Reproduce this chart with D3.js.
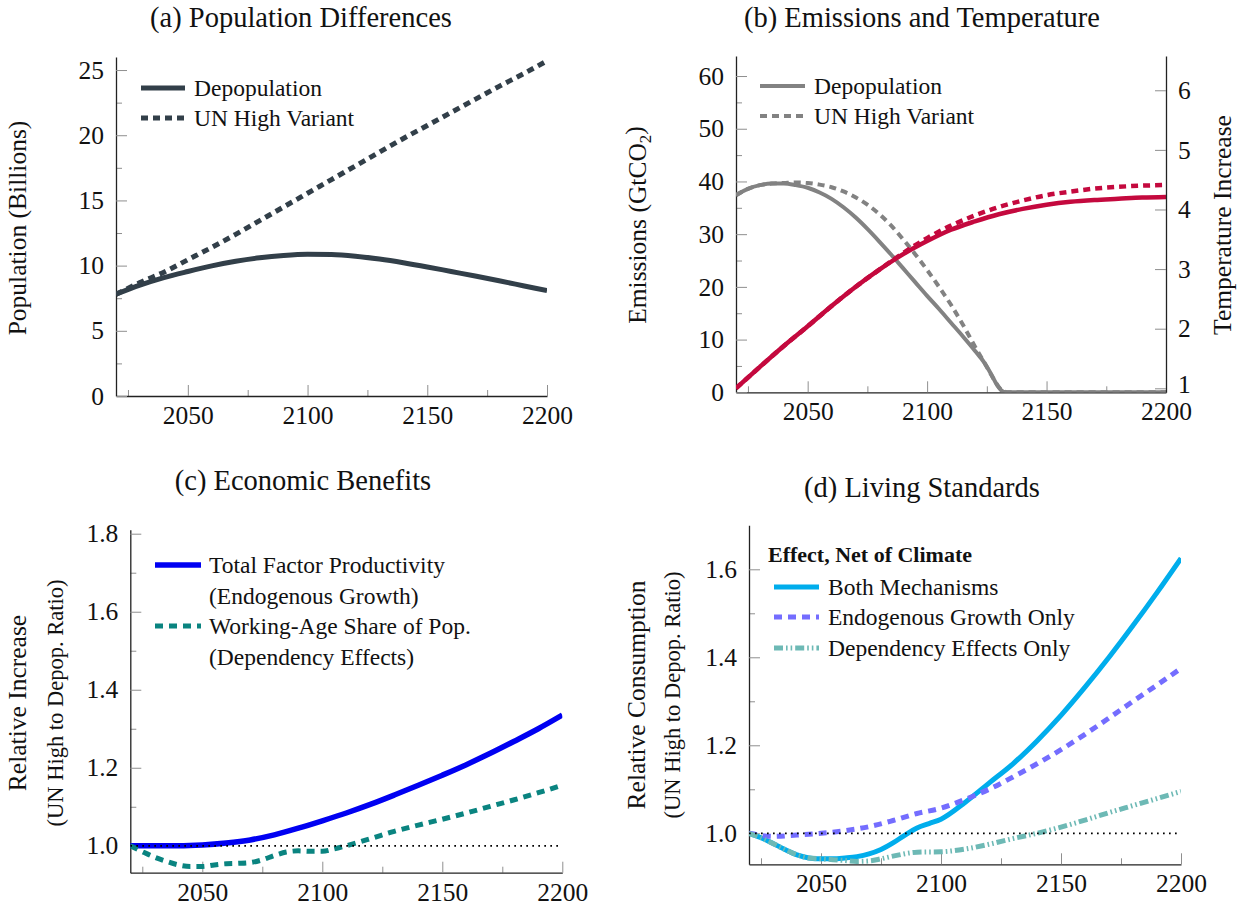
<!DOCTYPE html>
<html>
<head>
<meta charset="utf-8">
<script src="https://cdn.jsdelivr.net/npm/d3@7"></script>
<style>
  body { margin: 0; background: #fff; }
  svg text { font-family: "Liberation Serif", "Times New Roman", serif; fill: #111; }
</style>
</head>
<body>
<svg id="fig" width="1239" height="907"></svg>
<script>
// ---------- shared x axis ----------
const yearDomain = [2020, 2200];
const yearMajor = [2050, 2100, 2150, 2200];
const yearMinor = [2025, 2075, 2125, 2175];

// ---------- (a) Population Differences ----------
const popYears  = [2020,2030,2040,2050,2060,2070,2080,2090,2100,2110,2120,2130,2140,2150,2160,2170,2180,2190,2200];
const popDepop  = [7.8,8.5,9.08,9.55,9.98,10.33,10.6,10.78,10.87,10.85,10.72,10.5,10.22,9.9,9.55,9.2,8.84,8.46,8.08];
const popHigh   = [7.8,8.7,9.5,10.45,11.4,12.4,13.45,14.5,15.55,16.6,17.65,18.7,19.75,20.75,21.75,22.75,23.75,24.7,25.7];
const popTicks  = [0,5,10,15,20,25];
const popMinor  = [2.5,7.5,12.5,17.5,22.5];

// ---------- (b) Emissions and Temperature ----------
const emYears     = [2020,2025,2030,2035,2040,2045,2050,2055,2060,2065,2070,2075,2080,2085,2090,2095,2100,2105,2110,2115,2120,2124,2127,2129,2131,2133,2150,2175,2200];
const emDepop     = [37.4,38.6,39.3,39.6,39.6,39.3,38.8,37.9,36.7,35.1,33.2,31.0,28.6,26.1,23.5,20.9,18.3,15.8,13.2,10.6,7.9,5.6,3.3,1.6,0.4,0,0,0,0];
const emHighYears = [2020,2025,2030,2035,2040,2045,2050,2055,2060,2065,2070,2075,2080,2085,2090,2095,2100,2105,2110,2115,2120,2125,2128,2130,2132,2134,2150,2175,2200];
const emHigh      = [37.4,38.6,39.3,39.6,39.7,39.8,39.7,39.4,38.9,38.1,37.0,35.6,33.8,31.6,29.0,26.2,23.2,20.0,16.6,12.8,8.7,4.8,2.4,1.0,0.2,0,0,0,0];
const tempYears   = [2020,2030,2040,2050,2060,2070,2080,2090,2100,2110,2120,2130,2140,2150,2160,2170,2180,2190,2200];
const tempDepop   = [1.0,1.36,1.71,2.04,2.38,2.7,2.99,3.25,3.47,3.66,3.8,3.92,4.01,4.08,4.13,4.16,4.18,4.2,4.21];
const tempHigh    = [1.0,1.36,1.71,2.04,2.38,2.7,2.99,3.27,3.52,3.73,3.9,4.04,4.15,4.24,4.3,4.35,4.38,4.4,4.41];
const emTicks     = [0,10,20,30,40,50,60];
const emMinor     = [5,15,25,35,45,55];
const tempTicks   = [1,2,3,4,5,6];

// ---------- (c) Economic Benefits ----------
const tfpYears = [2020,2030,2040,2050,2060,2070,2080,2090,2100,2110,2120,2130,2140,2150,2160,2170,2180,2190,2200];
const tfp      = [1.0,1.0,1.0,1.002,1.007,1.015,1.028,1.045,1.064,1.084,1.106,1.13,1.155,1.181,1.208,1.237,1.268,1.3,1.335];
const wasYears = [2020,2025,2030,2035,2040,2045,2050,2055,2060,2065,2070,2075,2080,2085,2090,2095,2100,2105,2110,2120,2130,2140,2150,2160,2170,2180,2190,2200];
const workAge  = [1.0,0.985,0.971,0.96,0.951,0.947,0.947,0.951,0.954,0.955,0.957,0.964,0.975,0.984,0.987,0.986,0.986,0.992,1.0,1.018,1.037,1.053,1.068,1.084,1.101,1.118,1.136,1.155];
const benTicks = [1.0,1.2,1.4,1.6,1.8];
const benMinor = [1.1,1.3,1.5,1.7];

// ---------- (d) Living Standards ----------
const bothYears = [2020,2025,2030,2035,2040,2045,2050,2055,2060,2065,2070,2075,2080,2085,2090,2095,2100,2110,2120,2130,2140,2150,2160,2170,2180,2190,2200];
const bothMech  = [1.0,0.99,0.977,0.963,0.951,0.944,0.942,0.942,0.944,0.947,0.953,0.963,0.978,0.996,1.012,1.022,1.032,1.07,1.114,1.158,1.21,1.268,1.332,1.4,1.472,1.547,1.625];
const endoYears = [2020,2030,2040,2050,2060,2070,2080,2090,2100,2110,2120,2130,2140,2150,2160,2170,2180,2190,2200];
const endoOnly  = [1.0,0.993,0.996,1.0,1.006,1.015,1.029,1.045,1.057,1.077,1.1,1.128,1.158,1.19,1.225,1.262,1.3,1.337,1.375];
const depYears  = [2020,2025,2030,2035,2040,2045,2050,2055,2060,2065,2070,2075,2080,2090,2100,2110,2120,2130,2140,2150,2160,2170,2180,2190,2200];
const depOnly   = [1.0,0.99,0.977,0.963,0.951,0.944,0.942,0.94,0.938,0.936,0.937,0.942,0.948,0.957,0.958,0.964,0.975,0.988,1.0,1.014,1.03,1.047,1.063,1.079,1.095];
const livTicks  = [1.0,1.2,1.4,1.6];
const livMinor  = [1.1,1.3,1.5];

// ---------- helpers ----------
const svg = d3.select("#fig");
const FONT = '"Liberation Serif", "Times New Roman", serif';
const TICK_FS = 25.5;
const TITLE_FS = 28.5;
const LEG_FS = 23.5;

function styleAxis(sel, showDomain) {
  sel.attr("font-family", FONT).attr("font-size", TICK_FS);
  sel.selectAll(".tick line").attr("stroke", "#8f8f8f").attr("stroke-width", 1);
  sel.selectAll(".tick text").attr("fill", "#111");
  if (showDomain) sel.select(".domain").attr("stroke", "#222").attr("stroke-width", 1.3);
  else sel.select(".domain").remove();
}

function makePanel(p) {
  const x = d3.scaleLinear().domain(yearDomain).range([p.left, p.right]);
  const y = d3.scaleLinear().domain(p.yDomain).range([p.bottom, p.top]);
  const g = svg.append("g");

  // x minor + major ticks
  g.append("g").attr("transform", `translate(0,${p.bottom})`)
    .call(d3.axisBottom(x).tickValues(yearMinor).tickSizeInner(-6).tickSizeOuter(0).tickFormat(""))
    .call(s => styleAxis(s, false));
  g.append("g").attr("transform", `translate(0,${p.bottom})`)
    .call(d3.axisBottom(x).tickValues(yearMajor).tickSizeInner(-11).tickSizeOuter(0).tickPadding(10).tickFormat(d3.format("d")))
    .call(s => styleAxis(s, true));

  // y minor + major ticks
  g.append("g").attr("transform", `translate(${p.left},0)`)
    .call(d3.axisLeft(y).tickValues(p.yMinor).tickSizeInner(-6).tickSizeOuter(0).tickFormat(""))
    .call(s => styleAxis(s, false));
  g.append("g").attr("transform", `translate(${p.left},0)`)
    .call(d3.axisLeft(y).tickValues(p.yTicks).tickSizeInner(-11).tickSizeOuter(0).tickPadding(12).tickFormat(p.yFmt))
    .call(s => styleAxis(s, true));

  const clipId = "clip-" + p.id;
  svg.append("clipPath").attr("id", clipId).append("rect")
    .attr("x", p.left).attr("y", p.top).attr("width", p.right - p.left).attr("height", p.bottom - p.top);
  const plot = g.append("g").attr("clip-path", `url(#${clipId})`);

  // title
  g.append("text").attr("x", p.titleX).attr("y", p.titleY).attr("text-anchor", "middle")
    .attr("font-size", TITLE_FS).text(p.title);

  return { g, plot, x, y };
}

function drawLine(plot, x, yScale, years, vals, st) {
  const line = d3.line().x((d, i) => x(years[i])).y(d => yScale(d)).curve(d3.curveMonotoneX);
  plot.append("path").datum(vals).attr("d", line).attr("fill", "none")
    .attr("stroke", st.color).attr("stroke-width", st.width)
    .attr("stroke-dasharray", st.dash || null).attr("stroke-linejoin", "round");
}

function legendLine(g, x1, x2, yy, st) {
  g.append("line").attr("x1", x1).attr("x2", x2).attr("y1", yy).attr("y2", yy)
    .attr("stroke", st.color).attr("stroke-width", st.width).attr("stroke-dasharray", st.dash || null);
}

function legendText(g, xx, yy, txt, fs) {
  g.append("text").attr("x", xx).attr("y", yy).attr("dy", "0.33em").attr("font-size", fs || LEG_FS).text(txt);
}

function yLabel(g, cx, cy, txt, fs) {
  return g.append("text").attr("transform", `translate(${cx},${cy}) rotate(-90)`)
    .attr("text-anchor", "middle").attr("dy", "0.35em").attr("font-size", fs).text(txt);
}

function refLine(plot, x, y) {
  plot.append("line").attr("x1", x(2020)).attr("x2", x(2200)).attr("y1", y(1)).attr("y2", y(1))
    .attr("stroke", "#000").attr("stroke-width", 1.7).attr("stroke-dasharray", "1.7,4.3");
}

// ---------- styles ----------
const sA_solid = { color: "#323f49", width: 5 };
const sA_dash  = { color: "#323f49", width: 5, dash: "7,5" };
const sB_gray  = { color: "#828282", width: 4 };
const sB_grayD = { color: "#828282", width: 4, dash: "7,5" };
const sB_red   = { color: "#c4093e", width: 4.5 };
const sB_redD  = { color: "#c4093e", width: 4.5, dash: "7,5" };
const sC_blue  = { color: "#0000f2", width: 5.5 };
const sC_teal  = { color: "#0a8480", width: 5, dash: "8,6" };
const sD_blue  = { color: "#00adec", width: 5 };
const sD_purp  = { color: "#746dff", width: 5, dash: "8,6" };
const sD_teal  = { color: "#6db9b5", width: 5, dash: "9,3,1.6,3,1.6,3" };

// ---------- (a) ----------
{
  const { g, plot, x, y } = makePanel({
    id: "a", left: 116, right: 547, top: 57, bottom: 396, yDomain: [0, 26],
    yTicks: popTicks, yMinor: popMinor, yFmt: d3.format("d"),
    title: "(a) Population Differences", titleX: 301, titleY: 27
  });
  drawLine(plot, x, y, popYears, popDepop, sA_solid);
  drawLine(plot, x, y, popYears, popHigh, sA_dash);
  legendLine(g, 141, 185, 88, sA_solid);
  legendLine(g, 141, 185, 118, sA_dash);
  legendText(g, 194, 88, "Depopulation");
  legendText(g, 194, 118, "UN High Variant");
  yLabel(g, 17, 228, "Population (Billions)", 25.5);
}

// ---------- (b) ----------
{
  const { g, plot, x, y } = makePanel({
    id: "b", left: 736, right: 1166, top: 56, bottom: 392.3, yDomain: [0, 63.8],
    yTicks: emTicks, yMinor: emMinor, yFmt: d3.format("d"),
    title: "(b) Emissions and Temperature", titleX: 922, titleY: 27
  });
  const yT = d3.scaleLinear().domain([0.933, 6.575]).range([392.3, 56]);
  g.append("g").attr("transform", "translate(1166,0)")
    .call(d3.axisRight(yT).tickValues(tempTicks).tickSizeInner(-11).tickSizeOuter(0).tickPadding(12).tickFormat(d3.format("d")))
    .call(s => styleAxis(s, true))
    // lowest label sits right above the "2200" year label; lift it a little
    .call(s => s.selectAll(".tick text").filter(d => d === 1).attr("dy", "0.16em"));

  drawLine(plot, x, y, emYears, emDepop, sB_gray);
  drawLine(plot, x, y, emHighYears, emHigh, sB_grayD);
  drawLine(plot, x, yT, tempYears, tempDepop, sB_red);
  drawLine(plot, x, yT, tempYears, tempHigh, sB_redD);

  legendLine(g, 760, 805, 86, sB_gray);
  legendLine(g, 760, 805, 116, sB_grayD);
  legendText(g, 814, 86, "Depopulation");
  legendText(g, 814, 116, "UN High Variant");

  const lab = yLabel(g, 637, 225, "", 25.5);
  lab.append("tspan").text("Emissions (GtCO");
  lab.append("tspan").attr("font-size", 17).attr("dy", "0.3em").text("2");
  lab.append("tspan").attr("dy", "-0.3em").text(")");
  yLabel(g, 1222, 225, "Temperature Increase", 25.5);
}

// ---------- (c) ----------
{
  const { g, plot, x, y } = makePanel({
    id: "c", left: 130.3, right: 562.3, top: 529.8, bottom: 872.7, yDomain: [0.931, 1.81],
    yTicks: benTicks, yMinor: benMinor, yFmt: d3.format(".1f"),
    title: "(c) Economic Benefits", titleX: 303, titleY: 490
  });
  drawLine(plot, x, y, tfpYears, tfp, sC_blue);
  drawLine(plot, x, y, wasYears, workAge, sC_teal);
  refLine(plot, x, y);

  legendLine(g, 155, 201, 565, sC_blue);
  legendLine(g, 155, 201, 626, sC_teal);
  legendText(g, 209, 565, "Total Factor Productivity");
  legendText(g, 209, 596, "(Endogenous Growth)");
  legendText(g, 209, 626, "Working-Age Share of Pop.");
  legendText(g, 209, 657, "(Dependency Effects)");

  yLabel(g, 17, 703, "Relative Increase", 25.5);
  yLabel(g, 55, 703, "(UN High to Depop. Ratio)", 22.5);
}

// ---------- (d) ----------
{
  const { g, plot, x, y } = makePanel({
    id: "d", left: 749, right: 1181, top: 525.3, bottom: 864.3, yDomain: [0.9295, 1.70],
    yTicks: livTicks, yMinor: livMinor, yFmt: d3.format(".1f"),
    title: "(d) Living Standards", titleX: 922, titleY: 497
  });
  drawLine(plot, x, y, bothYears, bothMech, sD_blue);
  drawLine(plot, x, y, endoYears, endoOnly, sD_purp);
  drawLine(plot, x, y, depYears, depOnly, sD_teal);
  refLine(plot, x, y);

  g.append("text").attr("x", 768).attr("y", 555).attr("dy", "0.33em")
    .attr("font-size", 22).attr("font-weight", "bold").text("Effect, Net of Climate");
  legendLine(g, 774, 819, 587, sD_blue);
  legendLine(g, 774, 819, 617, sD_purp);
  legendLine(g, 774, 819, 648, sD_teal);
  legendText(g, 828, 587, "Both Mechanisms");
  legendText(g, 828, 617, "Endogenous Growth Only");
  legendText(g, 828, 648, "Dependency Effects Only");

  yLabel(g, 636, 695, "Relative Consumption", 25.5);
  yLabel(g, 672, 695, "(UN High to Depop. Ratio)", 22.5);
}
</script>
</body>
</html>
